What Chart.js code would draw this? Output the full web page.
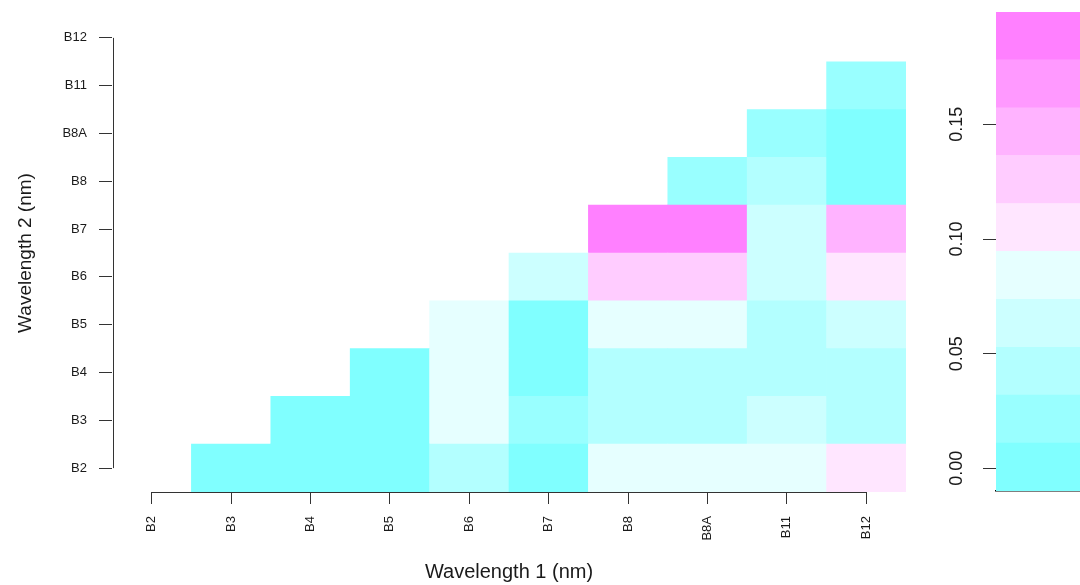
<!DOCTYPE html>
<html><head><meta charset="utf-8">
<script src="https://cdn.jsdelivr.net/npm/chart.js@4.4.1/dist/chart.umd.min.js"></script>
<style>
html,body{margin:0;padding:0;background:#fff;overflow:hidden;width:1080px;height:585px;}
#main{position:absolute;left:0;top:0;}
#bar{position:absolute;left:920px;top:0;}
</style></head><body>
<canvas id="main" width="920" height="585"></canvas>
<canvas id="bar" width="160" height="585"></canvas>
<script>
// Band labels (both axes)
const bands = ['B2','B3','B4','B5','B6','B7','B8','B8A','B11','B12'];
// Cell values per Wavelength 1 column, listed from Wavelength 2 = B2 upward
const colB2  = [];
const colB3  = [-0.0099];
const colB4  = [0.002, 0.004];
const colB5  = [0.001, 0.003, 0.005];
const colB6  = [0.045, 0.085, 0.083, 0.081];
const colB7  = [0.004, 0.022, 0.006, 0.008, 0.064];
const colB8  = [0.086, 0.043, 0.041, 0.088, 0.128, 0.199];
const colB8A = [0.087, 0.044, 0.042, 0.089, 0.127, 0.196, 0.024];
const colB11 = [0.084, 0.062, 0.040, 0.046, 0.065, 0.063, 0.047, 0.026];
const colB12 = [0.105, 0.044, 0.043, 0.064, 0.106, 0.147, 0.008, 0.006, 0.021];
const columns = [colB2, colB3, colB4, colB5, colB6, colB7, colB8, colB8A, colB11, colB12];
// Colour breaks and palette (10 classes)
const breaks = [-0.0099, 0.0110, 0.0319, 0.0528, 0.0737, 0.0946, 0.1155, 0.1364, 0.1572, 0.1781, 0.1990];
const palette = ['#80FFFF','#99FFFF','#B3FFFF','#CCFFFF','#E6FFFF','#FFE6FF','#FFCCFF','#FFB3FF','#FF99FF','#FF80FF'];
const legendTicks = [0.00, 0.05, 0.10, 0.15];

function colorFor(v) {
  for (let k = 0; k < palette.length; k++) {
    if (v < breaks[k + 1]) return palette[k];
  }
  return palette[palette.length - 1];
}

const FONT = "'Liberation Sans', Arial, sans-serif";
const TXT = '#1a1a1a';
const LINE = '#333';

// one dataset per Wavelength 2 row
const mainDatasets = bands.slice(0, bands.length - 1).map((rowName, j) => ({
  label: rowName,
  data: bands.map((_, i) => (j < columns[i].length) ? [j - 0.5, j + 0.5] : null),
  backgroundColor: bands.map((_, i) => (j < columns[i].length) ? colorFor(columns[i][j]) : 'rgba(0,0,0,0)'),
  borderWidth: 0,
  barPercentage: 1,
  categoryPercentage: 1,
  grouped: false
}));

const axisLines = {
  id: 'axisLines',
  afterDraw(chart) {
    const {ctx, scales: {x, y}, chartArea} = chart;
    ctx.save();
    ctx.strokeStyle = LINE;
    ctx.lineWidth = 1;
    ctx.beginPath();
    const yb = Math.round(chartArea.bottom) + 0.5;
    ctx.moveTo(x.getPixelForTick(0), yb);
    ctx.lineTo(x.getPixelForTick(bands.length - 1), yb);
    const xl = Math.round(chartArea.left) + 1.5;
    ctx.moveTo(xl, y.getPixelForTick(0));
    ctx.lineTo(xl, y.getPixelForTick(bands.length - 1));
    ctx.stroke();
    ctx.restore();
  }
};

new Chart(document.getElementById('main'), {
  type: 'bar',
  data: { labels: bands, datasets: mainDatasets },
  plugins: [axisLines],
  options: {
    responsive: false,
    animation: false,
    devicePixelRatio: 1,
    layout: { padding: { top: 14, right: 14, bottom: 0, left: 0 } },
    plugins: { legend: { display: false }, tooltip: { enabled: false } },
    scales: {
      x: {
        type: 'category',
        offset: true,
        ticks: { autoSkip: false, minRotation: 90, maxRotation: 90, padding: 12, color: TXT, font: { family: FONT, size: 13 } },
        grid: { offset: false, drawOnChartArea: false, tickLength: 12, color: LINE },
        border: { display: false },
        title: { display: true, text: 'Wavelength 1 (nm)', color: TXT, font: { family: FONT, size: 20 }, padding: { top: 0, bottom: 1 } },
        afterFit(s) { s.height = 93; s.paddingLeft = 0; s.paddingRight = 0; }
      },
      y: {
        type: 'linear',
        min: -0.5,
        max: bands.length - 0.5,
        afterBuildTicks(s) { s.ticks = bands.map((_, i) => ({ value: i })); },
        ticks: { autoSkip: false, padding: 12, color: TXT, font: { family: FONT, size: 13 }, callback: (v) => bands[v] },
        grid: { drawOnChartArea: false, tickLength: 13, color: LINE },
        border: { display: false },
        title: { display: true, text: 'Wavelength 2 (nm)', color: TXT, font: { family: FONT, size: 19 }, padding: { top: 14, bottom: 0 } },
        afterFit(s) { s.width = 112; s.paddingTop = 0; s.paddingBottom = 0; }
      }
    }
  }
});

new Chart(document.getElementById('bar'), {
  type: 'bar',
  data: {
    labels: ['scale'],
    datasets: palette.map((c, k) => ({
      data: [[breaks[k], breaks[k + 1]]],
      backgroundColor: c,
      borderWidth: 0,
      barPercentage: 1,
      categoryPercentage: 1,
      grouped: false
    }))
  },
  options: {
    responsive: false,
    animation: false,
    devicePixelRatio: 1,
    layout: { padding: { top: 12, right: 0, bottom: 0, left: 0 } },
    plugins: { legend: { display: false }, tooltip: { enabled: false } },
    scales: {
      x: {
        type: 'category',
        offset: true,
        ticks: { display: false },
        grid: { display: false },
        border: { display: true, color: '#000', width: 1.5 },
        afterFit(s) { s.height = 94; s.paddingLeft = 0; s.paddingRight = 0; }
      },
      y: {
        type: 'linear',
        position: 'left',
        min: breaks[0],
        max: breaks[breaks.length - 1],
        afterBuildTicks(s) { s.ticks = legendTicks.map(v => ({ value: v })); },
        ticks: { callback: (v) => Number(v).toFixed(2), minRotation: 90, maxRotation: 90, crossAlign: 'center', padding: 8, color: TXT, font: { family: FONT, size: 18 } },
        grid: { drawOnChartArea: false, tickLength: 13, color: LINE },
        border: { display: false },
        afterFit(s) { s.width = 76; s.paddingTop = 0; s.paddingBottom = 0; }
      }
    }
  }
});
</script>
</body></html>
